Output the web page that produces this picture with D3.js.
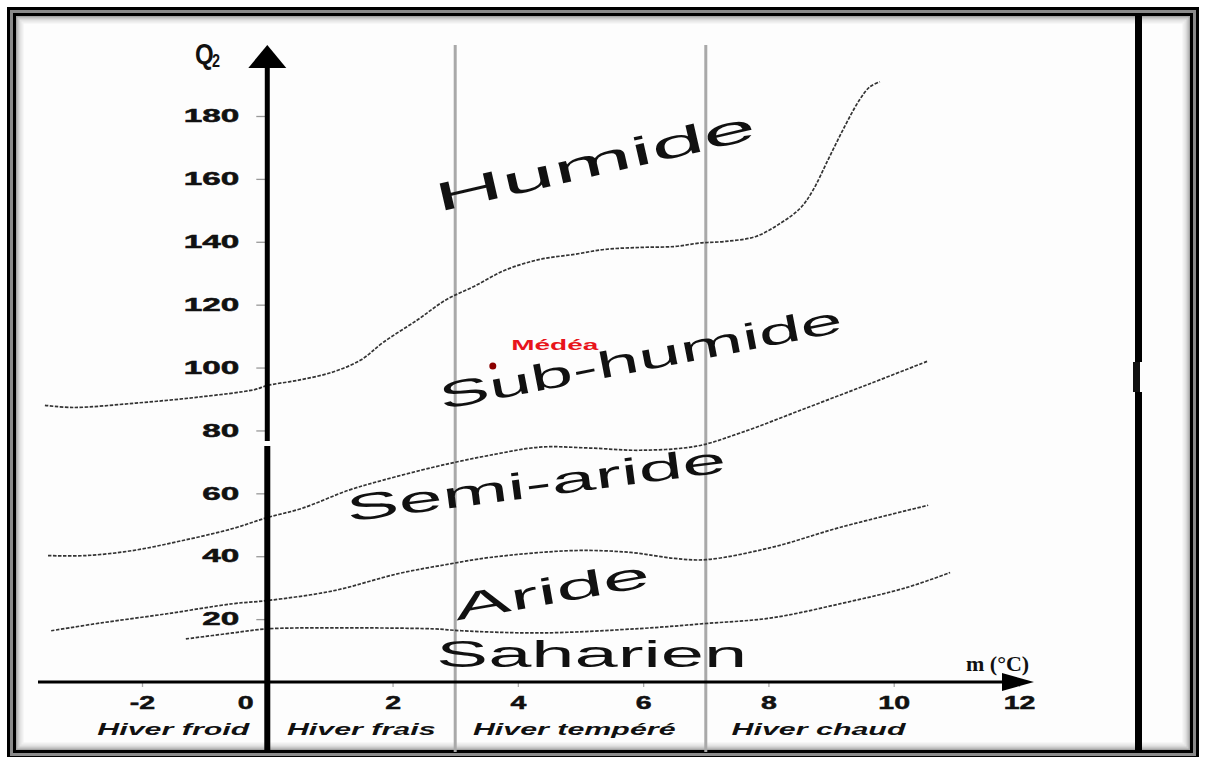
<!DOCTYPE html>
<html lang="fr">
<head>
<meta charset="utf-8">
<title>Climagramme d'Emberger - Médéa</title>
<script src="https://cdn.jsdelivr.net/npm/d3@7"></script>
<style>
  body { margin: 0; background: #fff; }
  svg { display: block; font-family: "Liberation Sans", Arial, sans-serif; }
</style>
</head>
<body>
<svg id="chart" width="1206" height="757"></svg>
<script>
const ticksM = [-2, 0, 2, 4, 6, 8, 10, 12];
const ticksQ = [20, 40, 60, 80, 100, 120, 140, 160, 180];

// limites entre les étages bioclimatiques : [m (°C), Q2]
const limiteHumide = [[-3.55, 88], [-3.1, 87.3], [-2.1, 88.7], [-1.1, 90.6], [-0.2, 93], [0, 94.3],
  [0.5, 96], [1.05, 98.6], [1.5, 102.5], [1.85, 108], [2.4, 115.2], [2.85, 121.5], [3.3, 125.8],
  [3.8, 131], [4.35, 134.4], [4.9, 136], [5.4, 137.6], [5.95, 138.2], [6.5, 138.5], [6.9, 139.6],
  [7.3, 140.1], [7.8, 141.7], [8.2, 146], [8.5, 150.5], [8.7, 156], [8.95, 166], [9.2, 176],
  [9.45, 185], [9.62, 189.3], [9.78, 190.9]];
const limiteSubHumide = [[-3.5, 40.2], [-2.9, 40.2], [-2.15, 41.8], [-1.35, 45], [-0.55, 48.8],
  [0, 52.3], [0.55, 55.2], [1.3, 61], [1.85, 64.2], [2.65, 68.3], [3.1, 70.3], [3.55, 72.1],
  [4.35, 74.7], [5.15, 74.4], [5.95, 73.7], [6.85, 75], [7.55, 79.2], [8.6, 87.1], [9.65, 95.1],
  [10.55, 102.1]];
const limiteSemiAride = [[-3.45, 16.3], [-2.65, 18.8], [-1.6, 21.7], [-0.55, 24.9], [0, 25.9],
  [1.05, 29], [2.1, 34.5], [2.9, 37.5], [3.55, 39.6], [4.9, 41.8], [5.8, 41.2], [6.5, 39.3],
  [7.0, 38.9], [8.05, 42.8], [9.15, 49.2], [10.55, 56.2]];
const limiteAride = [[-1.3, 13.7], [-0.55, 15.6], [0, 16.9], [1.05, 17.2], [2.65, 16.9], [3.1, 16.3],
  [4.35, 15.6], [5.95, 17], [7.0, 18.6], [8.05, 20.4], [9.15, 24.9], [10.2, 30], [10.9, 34.8]];

const etages = ['Humide', 'Sub-humide', 'Semi-aride', 'Aride', 'Saharien'];
const hivers = ['Hiver froid', 'Hiver frais', 'Hiver tempéré', 'Hiver chaud'];
const centresHivers = [-1.5, 1.5, 4.9, 8.8];
const separationsHivers = [3, 7];
const station = { nom: 'Médéa', m: 3.6, q2: 100.5 };

const svg = d3.select('#chart');

// echelles
const x = d3.scaleLinear().domain([-2, 12]).range([142, 1019]);
const y = d3.scaleLinear().domain([0, 180]).range([682, 116]);

// cadre double
svg.append('rect').attr('x', 7).attr('y', 7).attr('width', 1192).attr('height', 752).attr('fill', '#000');
svg.append('rect').attr('x', 10).attr('y', 10).attr('width', 1186).attr('height', 746).attr('fill', '#8a8a8a');
svg.append('rect').attr('x', 13).attr('y', 13).attr('width', 1180).attr('height', 740).attr('fill', '#000');
svg.append('rect').attr('x', 16).attr('y', 16).attr('width', 1174).attr('height', 734).attr('fill', '#fdfdfd');
// petite ombre interieure
[0.35, 0.2, 0.1, 0.05].forEach((o, i) => {
  svg.append('rect')
    .attr('x', 16.5 + i * 2).attr('y', 16.5 + i * 2)
    .attr('width', 1173 - i * 4).attr('height', 733 - i * 4)
    .attr('fill', 'none').attr('stroke', '#000').attr('stroke-opacity', o).attr('stroke-width', 2);
});
// trait vertical a droite
svg.append('rect').attr('x', 1135).attr('y', 16).attr('width', 7).attr('height', 346).attr('fill', '#000');
svg.append('rect').attr('x', 1133).attr('y', 362).attr('width', 7).attr('height', 30).attr('fill', '#111');
svg.append('rect').attr('x', 1135).attr('y', 392).attr('width', 7).attr('height', 360).attr('fill', '#000');

// separations des types d'hiver
svg.selectAll('.sep')
  .data(separationsHivers)
  .enter().append('line')
  .attr('class', 'sep')
  .attr('x1', d => x(d)).attr('x2', d => x(d))
  .attr('y1', 45).attr('y2', 752)
  .attr('stroke', '#a9a9a9').attr('stroke-width', 3);

// limites entre etages
const ligne = d3.line()
  .x(d => x(d[0]))
  .y(d => y(d[1]))
  .curve(d3.curveCatmullRom.alpha(0.5));

svg.selectAll('.limite')
  .data([limiteHumide, limiteSubHumide, limiteSemiAride, limiteAride])
  .enter().append('path')
  .attr('class', 'limite')
  .attr('d', ligne)
  .attr('fill', 'none')
  .attr('stroke', '#333')
  .attr('stroke-width', 1.7)
  .attr('stroke-dasharray', '3.5,1.5');

function etirer(sel, k) {
  sel.each(function () {
    const t = d3.select(this);
    const x0 = +t.attr('x') || 0;
    t.attr('x', x0 / k).attr('transform', 'scale(' + k + ',1)');
  });
}

// axe Y
const gy = svg.append('g')
  .attr('transform', 'translate(' + x(0) + ',0)')
  .call(d3.axisLeft(y).tickValues(ticksQ).tickSize(11).tickPadding(17).tickSizeOuter(0));
gy.select('.domain').remove();
gy.selectAll('.tick line').attr('stroke', '#999').attr('stroke-width', 1.3);
gy.selectAll('.tick text')
  .attr('font-size', 18).attr('font-weight', 'bold').attr('fill', '#111')
  .attr('stroke', '#111').attr('stroke-width', 0.5)
  .call(etirer, 1.85);

// axe X
const gx = svg.append('g')
  .attr('transform', 'translate(0,' + y(0) + ')')
  .call(d3.axisBottom(x).tickValues(ticksM).tickFormat(d => String(d))
    .tickSize(5).tickPadding(9).tickSizeOuter(0));
gx.select('.domain').remove();
gx.selectAll('.tick line').attr('stroke', '#aaa').attr('stroke-width', 1.3);
gx.selectAll('.tick text')
  .attr('font-size', 19).attr('font-weight', 'bold').attr('fill', '#111')
  .attr('stroke', '#111').attr('stroke-width', 0.5)
  .attr('x', d => d === 0 ? -22 : 0)
  .call(etirer, 1.5);

// lignes des axes avec fleches
svg.append('line')
  .attr('x1', 38).attr('x2', 1006)
  .attr('y1', y(0)).attr('y2', y(0))
  .attr('stroke', '#000').attr('stroke-width', 3);
svg.append('path')
  .attr('d', 'M' + 1002 + ',' + (y(0) - 9) + 'L' + 1034 + ',' + y(0) + 'L' + 1002 + ',' + (y(0) + 9) + 'Z')
  .attr('fill', '#000');

svg.append('line')
  .attr('x1', x(0)).attr('x2', x(0))
  .attr('y1', 64).attr('y2', 441)
  .attr('stroke', '#000').attr('stroke-width', 5);
svg.append('line')
  .attr('x1', x(0)).attr('x2', x(0))
  .attr('y1', 446).attr('y2', 752)
  .attr('stroke', '#000').attr('stroke-width', 6);
svg.append('path')
  .attr('d', 'M' + (x(0) - 19) + ',68L' + x(0) + ',45L' + (x(0) + 19) + ',68Z')
  .attr('fill', '#000');

// titres des axes
const q2 = svg.append('text')
  .attr('x', 195 / 0.8).attr('y', 64)
  .attr('transform', 'scale(0.8,1)')
  .attr('font-size', 30).attr('font-weight', 'bold').attr('fill', '#111');
q2.append('tspan').text('Q');
q2.append('tspan').attr('font-size', 18).attr('dy', 3).attr('dx', -2).text('2');

svg.append('text')
  .attr('x', 966).attr('y', 671)
  .attr('font-family', '"Liberation Serif", "Times New Roman", serif')
  .attr('font-size', 22).attr('font-weight', 'bold').attr('fill', '#111')
  .text('m (°C)');

// types d'hiver
svg.selectAll('.hiver')
  .data(hivers)
  .enter().append('text')
  .attr('class', 'hiver')
  .attr('x', (d, i) => x(centresHivers[i]))
  .attr('y', 735)
  .attr('text-anchor', 'middle')
  .attr('font-size', 16).attr('font-weight', 'bold').attr('font-style', 'italic')
  .attr('fill', '#111')
  .text(d => d)
  .call(etirer, 1.9);

// etages bioclimatiques (m, Q2 du centre de l'etiquette)
const posEtages = [
  { m: 5.23, q: 165.5, angle: -13, longueur: 328, taille: 40 },
  { m: 5.96, q: 103, angle: -11, longueur: 410, taille: 37 },
  { m: 4.29, q: 63, angle: -7.5, longueur: 383, taille: 37 },
  { m: 4.54, q: 29, angle: -10, longueur: 198, taille: 37 },
  { m: 5.18, q: 8.7, angle: 0, longueur: 311, taille: 37 }
];

svg.selectAll('.etage')
  .data(etages)
  .enter().append('text')
  .attr('class', 'etage')
  .attr('text-anchor', 'middle')
  .attr('dominant-baseline', 'central')
  .attr('font-size', (d, i) => posEtages[i].taille)
  .attr('fill', '#111')
  .text(d => d)
  .each(function (d, i) {
    const p = posEtages[i];
    const k = p.longueur / this.getComputedTextLength();
    d3.select(this).attr('transform',
      'translate(' + x(p.m) + ',' + y(p.q) + ') rotate(' + p.angle + ') scale(' + k + ',1)');
  });

// station
svg.append('circle')
  .attr('cx', x(station.m)).attr('cy', y(station.q2))
  .attr('r', 3.5).attr('fill', '#8b0000');
svg.append('text')
  .attr('x', (x(station.m) + 62) / 2.0).attr('y', y(station.q2) - 16)
  .attr('transform', 'scale(2.0,1)')
  .attr('text-anchor', 'middle')
  .attr('font-size', 14).attr('font-weight', 'bold').attr('fill', '#e8141b')
  .text(station.nom);
</script>
</body>
</html>
